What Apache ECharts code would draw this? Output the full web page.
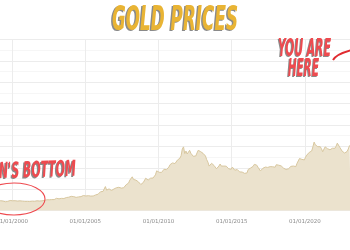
<!DOCTYPE html>
<html>
<head>
<meta charset="utf-8">
<script src="https://cdn.jsdelivr.net/npm/echarts@6/dist/echarts.min.js"></script>
<style>html,body{margin:0;padding:0;background:#fff}#c{width:350px;height:250px}</style>
</head>
<body>
<div id="c"></div>
<script>
const startYear = 1999;
const monthlyPrices = [
 287,287,286,282,277,262,256,257,265,311,293,283,
 284,300,286,280,275,285,282,274,273,270,266,272,
 266,262,263,261,272,270,268,273,283,279,276,276,
 282,296,294,302,314,321,313,310,319,317,319,333,
 357,359,341,328,355,356,351,360,379,379,389,407,
 414,405,406,404,384,392,398,400,406,420,439,442,
 424,423,434,429,422,431,424,438,456,470,476,510,
 549,555,557,610,700,596,633,632,598,586,627,629,
 631,665,655,679,667,655,665,665,712,754,806,803,
 889,922,985,909,888,889,939,839,829,760,760,816,
 858,943,924,890,928,946,934,949,996,1043,1160,1134,
 1118,1095,1113,1148,1205,1240,1193,1215,1271,1342,1390,1391,
 1356,1372,1424,1473,1510,1529,1600,1800,1860,1665,1739,1652,
 1656,1760,1673,1650,1585,1596,1594,1630,1760,1770,1722,1685,
 1671,1627,1593,1487,1414,1300,1286,1380,1349,1316,1275,1221,
 1244,1300,1360,1299,1287,1300,1320,1296,1239,1222,1176,1202,
 1270,1227,1178,1198,1199,1181,1128,1118,1125,1170,1086,1060,
 1097,1200,1246,1243,1260,1290,1350,1340,1326,1266,1238,1157,
 1192,1234,1231,1270,1246,1260,1236,1283,1330,1280,1283,1265,
 1340,1331,1325,1335,1304,1281,1238,1185,1198,1215,1220,1250,
 1291,1330,1300,1286,1284,1380,1413,1520,1510,1495,1470,1479,
 1560,1620,1592,1700,1716,1740,1860,2000,1921,1900,1866,1858,
 1867,1808,1718,1760,1860,1834,1807,1785,1775,1777,1821,1790,
 1817,1880,1970,1937,1849,1837,1733,1765,1681,1650,1726,1798,
 1897,1855
];
const xTickYears = [1995, 2000, 2005, 2010, 2015, 2020, 2025];
const titleText = 'GOLD PRICES';
const hereLines = ['YOU ARE', 'HERE'];
const bottomText = "N'S BOTTOM";

const seriesData = monthlyPrices.map((p, i) => [startYear + i / 12 + 1 / 24, p]);

const mctx = document.createElement('canvas').getContext('2d');
function fitScale(text, font, target) {
  mctx.font = font;
  return target / mctx.measureText(text).width;
}

const titleFont = 'italic bold 34px "DejaVu Sans Condensed", "DejaVu Sans"';
const hereFont = 'italic bold 24px "DejaVu Sans Condensed", "DejaVu Sans"';
const botFont = 'italic bold 22px "DejaVu Sans Condensed", "DejaVu Sans"';
const RED = '#ee4a4f';
const SHADOW = '#8a8a8a';

function shadowText(text, font, cx, cy, sx, sy, fill, dx, dy, align, rot) {
  const base = { type: 'text', x: cx, y: cy, scaleX: sx, scaleY: sy, rotation: rot || 0, z: 100 };
  return [
    Object.assign({}, base, { x: cx + dx, y: cy + dy, z: 99,
      style: { text: text, font: font, fill: SHADOW, align: align || 'center', verticalAlign: 'middle' } }),
    Object.assign({}, base, {
      style: { text: text, font: font, fill: fill, align: align || 'center', verticalAlign: 'middle' } })
  ];
}

const tS = fitScale(titleText, titleFont, 126);
const h1S = fitScale(hereLines[0], hereFont, 53);
const h2S = fitScale(hereLines[1], hereFont, 31);
const bS = fitScale(bottomText, botFont, 77);

const graphics = [].concat(
  shadowText(titleText, titleFont, 175, 21, tS, 0.98, '#e9b434', -1.5, 1.5),
  shadowText(hereLines[0], hereFont, 304.5, 49.5, h1S, 1.0, RED, -1, 1),
  shadowText(hereLines[1], hereFont, 303.5, 69.5, h2S, 1.0, RED, -1, 1),
  shadowText(bottomText, botFont, 76, 170, bS, 1.0, RED, -1.2, 1.2, 'right', 0.03),
  [
    { type: 'ellipse', shape: { cx: 14, cy: 199, rx: 31, ry: 16 }, z: 100,
      style: { fill: 'none', stroke: RED, lineWidth: 1.1 } },
    { type: 'bezierCurve', shape: { x1: 333, y1: 60, x2: 352, y2: 50, cpx1: 336, cpy1: 55, cpx2: 344, cpy2: 52 }, z: 100,
      style: { fill: 'none', stroke: '#e02a2f', lineWidth: 2 } }
  ]
);

const chart = echarts.init(document.getElementById('c'), null, { renderer: 'canvas' });
chart.setOption({
  animation: false,
  grid: { left: -61.2, right: -28.2, top: 39.5, bottom: 39.5, containLabel: false, outerBoundsMode: 'none' },
  xAxis: {
    type: 'value', min: xTickYears[0], max: xTickYears[xTickYears.length - 1], interval: 5,
    axisLine: { show: false }, axisTick: { show: false },
    axisLabel: { color: '#8c8c8c', fontSize: 5.5, margin: 8, fontFamily: 'DejaVu Sans',
      formatter: v => '01/01/' + v },
    splitLine: { show: true, lineStyle: { color: '#ececec', width: 1 } }
  },
  yAxis: {
    type: 'value', min: 0, max: 5000, interval: 625,
    axisLine: { show: false }, axisTick: { show: false }, axisLabel: { show: false },
    splitLine: { show: true, lineStyle: { color: '#ececec', width: 1 } },
    minorTick: { show: false, splitNumber: 2 },
    minorSplitLine: { show: true, lineStyle: { color: '#f6f6f6', width: 1 } }
  },
  series: [{
    type: 'line', data: seriesData, showSymbol: false, smooth: false,
    lineStyle: { color: '#d8c79f', width: 1 },
    areaStyle: { color: '#ebe2cd', opacity: 1 }
  }],
  graphic: graphics
});
</script>
</body>
</html>
